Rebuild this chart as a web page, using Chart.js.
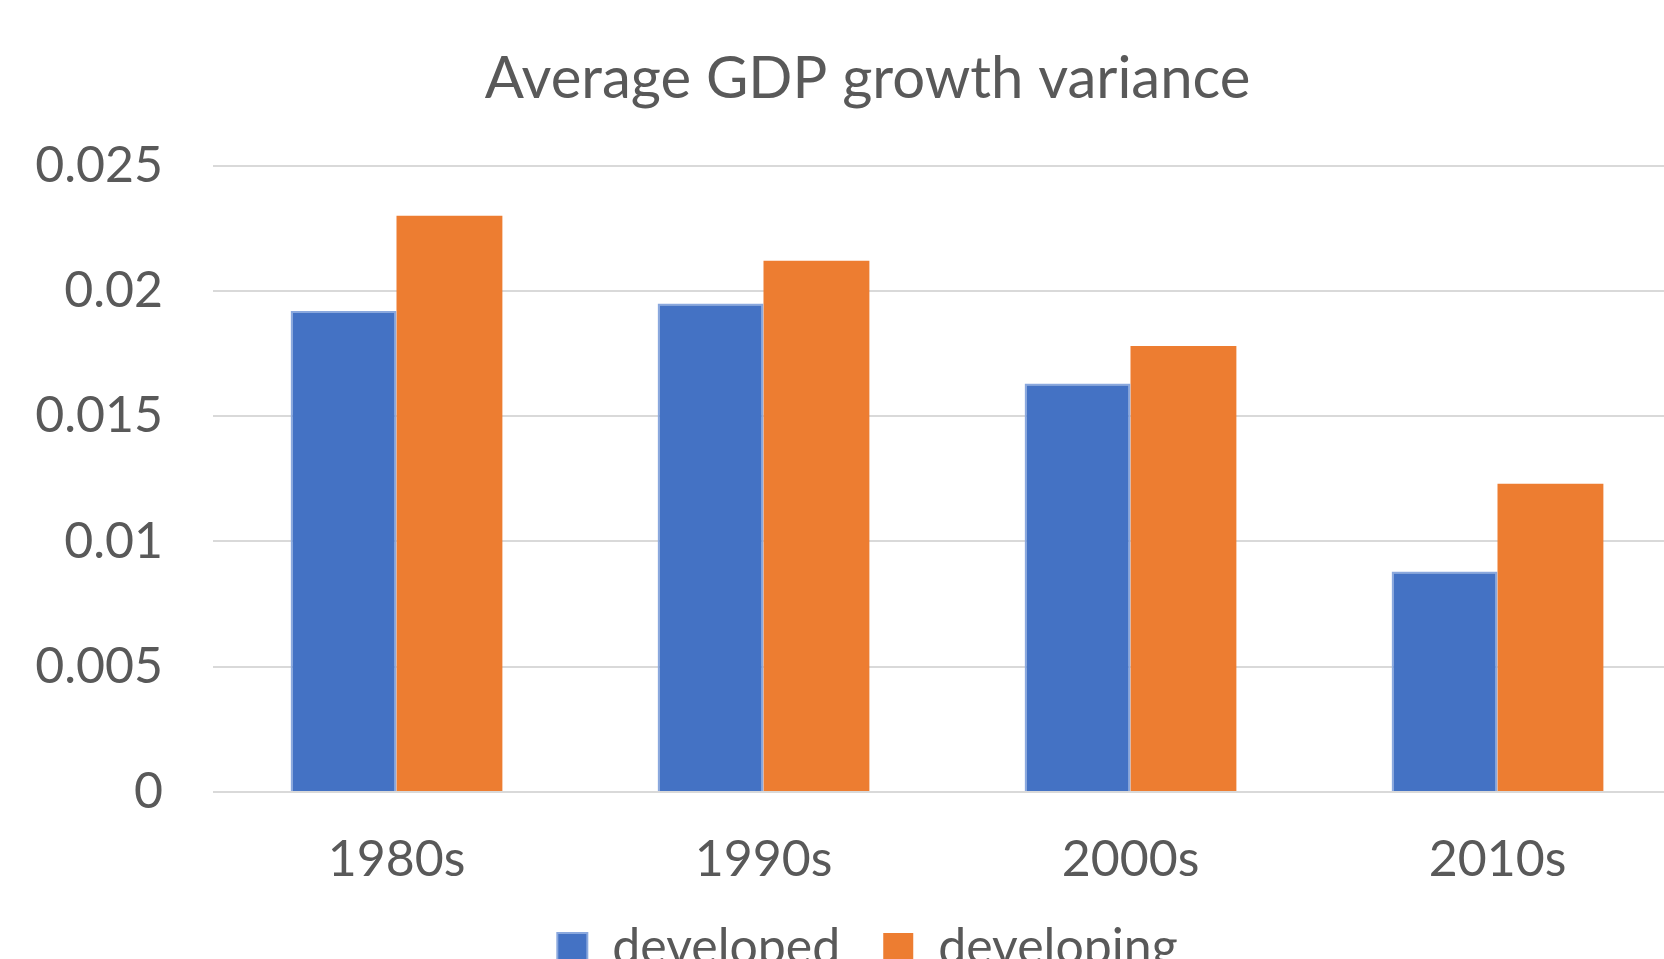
<!DOCTYPE html>
<html>
<head>
<meta charset="utf-8">
<script src="https://cdn.jsdelivr.net/npm/chart.js@4/dist/chart.umd.min.js"></script>
<style>
  html, body { margin: 0; padding: 0; background: #fff; overflow: hidden; }
  #wrap { position: absolute; left: 0; top: 0; width: 1735px; height: 983px; }
</style>
</head>
<body>
<div id="wrap"><canvas id="c" width="1735" height="983"></canvas></div>
<script>
const categories = ['1980s', '1990s', '2000s', '2010s'];
const developed = [0.0192, 0.0195, 0.0163, 0.0088];
const developing = [0.0230, 0.0212, 0.0178, 0.0123];
const yTickLabels = ['0', '0.005', '0.01', '0.015', '0.02', '0.025'];
const titleText = 'Average GDP growth variance';
const seriesNames = ['developed', 'developing'];

const FONT = 'Lato, "Open Sans", "DejaVu Sans", sans-serif';
const TEXT = '#595959';

new Chart(document.getElementById('c'), {
  type: 'bar',
  data: {
    labels: categories,
    datasets: [
      { label: seriesNames[0], data: developed, backgroundColor: '#4472C4',
        borderColor: '#8AA8DE', borderWidth: 2, borderSkipped: 'start' },
      { label: seriesNames[1], data: developing, backgroundColor: '#ED7D31',
        borderColor: '#ED7D31', borderWidth: 0 }
    ]
  },
  options: {
    responsive: false,
    devicePixelRatio: 1,
    animation: false,
    layout: { padding: 0 },
    datasets: { bar: { categoryPercentage: 0.577, barPercentage: 1.0 } },
    plugins: {
      title: {
        display: true, text: titleText, color: TEXT,
        font: { family: FONT, size: 58, weight: 'normal' },
        padding: { top: 44, bottom: 52 }
      },
      legend: {
        display: true, position: 'bottom',
        labels: {
          color: TEXT, font: { family: FONT, size: 50 },
          boxWidth: 30, boxHeight: 30, padding: 43
        }
      },
      tooltip: { enabled: false }
    },
    scales: {
      x: {
        grid: { display: false, drawTicks: false },
        border: { display: false },
        ticks: { color: TEXT, font: { family: FONT, size: 50, lineHeight: 0.8 }, padding: 48, maxRotation: 0 },
        afterFit: (s) => { s.height = 88; }
      },
      y: {
        min: 0, max: 0.025,
        grid: { color: '#D9D9D9', lineWidth: 2, drawTicks: false },
        border: { display: false },
        ticks: {
          stepSize: 0.005, color: TEXT, font: { family: FONT, size: 50 }, padding: 50,
          callback: (v, i) => yTickLabels[i]
        },
        afterFit: (s) => { s.width = 213; }
      },
      yRight: {
        position: 'right', min: 0, max: 0.025,
        grid: { display: false, drawTicks: false },
        border: { display: false },
        ticks: { display: false },
        afterFit: (s) => { s.width = 54; }
      }
    }
  }
});
</script>
</body>
</html>
